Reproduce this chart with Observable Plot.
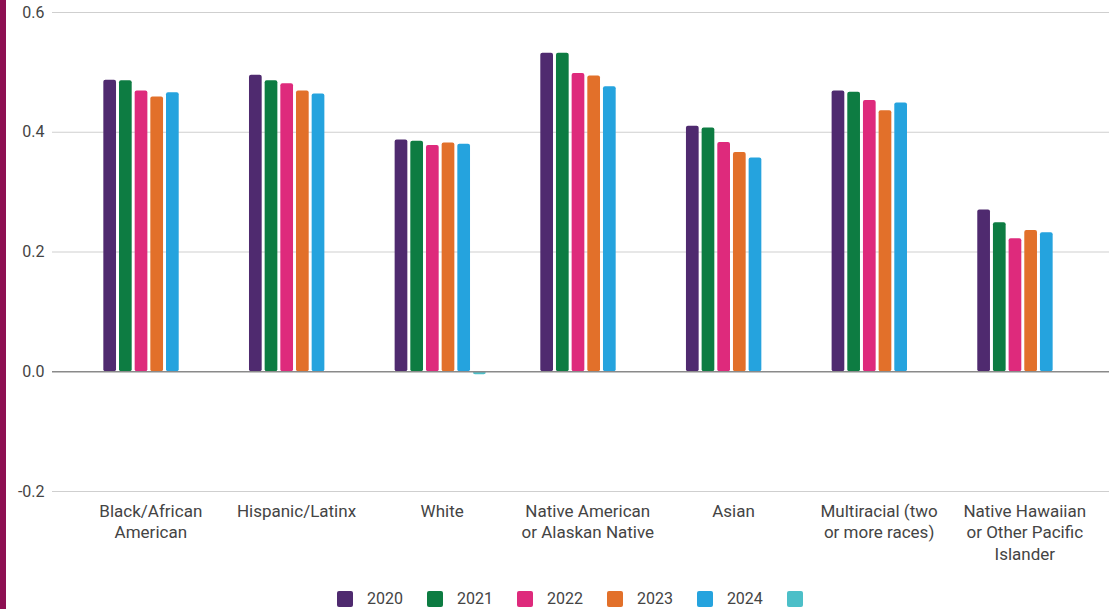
<!DOCTYPE html>
<html>
<head>
<meta charset="utf-8">
<script src="https://cdn.jsdelivr.net/npm/d3@7"></script>
<script src="https://cdn.jsdelivr.net/npm/@observablehq/plot@0.6"></script>
<style>
  html, body { margin: 0; padding: 0; background: #fff; overflow: hidden; }
  body { width: 1109px; height: 609px; position: relative; font-family: Roboto, "Noto Sans", sans-serif; }
  #stripe { position: absolute; left: 0; top: 0; width: 6px; height: 609px; background: #8d0f52; z-index: 2; }
  #chart svg { display: block; }
  #legend { position: absolute; left: 337px; top: 591px; display: flex; align-items: center; height: 16px; font-size: 16px; color: #444; }
  .item { display: flex; align-items: center; margin-right: 24px; }
  .sw { width: 16px; height: 16px; border-radius: 2px; }
  .lab { margin-left: 14px; line-height: 16px; }
</style>
</head>
<body>
<div id="stripe"></div>
<div id="chart"></div>
<div id="legend"></div>
<script>
const categories = [
  "Black/African\nAmerican",
  "Hispanic/Latinx",
  "White",
  "Native American\nor Alaskan Native",
  "Asian",
  "Multiracial (two\nor more races)",
  "Native Hawaiian\nor Other Pacific\nIslander"
];
const seriesNames = ["2020", "2021", "2022", "2023", "2024", ""];
const v2020 = [0.487, 0.495, 0.387, 0.532, 0.410, 0.469, 0.270];
const v2021 = [0.486, 0.486, 0.385, 0.532, 0.407, 0.467, 0.249];
const v2022 = [0.469, 0.481, 0.378, 0.498, 0.383, 0.453, 0.222];
const v2023 = [0.459, 0.469, 0.382, 0.494, 0.366, 0.436, 0.236];
const v2024 = [0.466, 0.464, 0.380, 0.476, 0.357, 0.449, 0.232];
const vExtra = [null, null, -0.005, null, null, null, null];
const seriesValues = [v2020, v2021, v2022, v2023, v2024, vExtra];
const colors = ["#4f2a6f", "#0d7c42", "#de2a7c", "#e2702a", "#25a3de", "#4cbfc8"];
const yTicks = [-0.2, 0, 0.2, 0.4, 0.6];

const data = seriesValues.flatMap((vals, j) =>
  vals.map((v, i) => ({cat: categories[i], s: j, value: v}))
).filter(d => d.value != null);

// layout of bars within each category band
const xRange = [77.5, 1097.1];
const bandStep = (xRange[1] - xRange[0]) / categories.length;
const slot = 15.67, barW = 12.7, groupOffset = bandStep / 2 - 47;

const barMarks = seriesValues.map((_, j) => {
  const insetLeft = groupOffset + slot * j;
  const insetRight = bandStep - insetLeft - barW;
  return Plot.barY(data.filter(d => d.s === j), {
    x: "cat", y: "value", fill: colors[j], insetLeft, insetRight, rx: 2
  });
});

const chart = Plot.plot({
  width: 1109,
  height: 580,
  marginLeft: 52,
  marginRight: 0,
  marginTop: 12,
  marginBottom: 89,
  style: {fontFamily: "Roboto, 'Noto Sans', sans-serif", fontSize: "16px", color: "#444", background: "#fff"},
  x: {domain: categories, range: xRange, padding: 0, round: false, axis: null},
  y: {domain: [-0.2, 0.6], ticks: yTicks, tickFormat: d => d.toFixed(1), tickSize: 0, tickPadding: 8, label: null},
  marks: [
    Plot.ruleY(yTicks.filter(t => t !== 0), {stroke: "#cfcfcf", strokeWidth: 1}),
    ...barMarks,
    Plot.ruleY([0], {stroke: "#8a8a8a", strokeWidth: 1.5}),
    Plot.text(categories, {x: d => d, text: d => d, frameAnchor: "bottom", lineAnchor: "top", dy: 10, fontSize: 17, lineHeight: 1.27, fill: "#444"})
  ]
});
document.getElementById("chart").appendChild(chart);

const legend = document.getElementById("legend");
seriesNames.forEach((name, j) => {
  const item = document.createElement("div");
  item.className = "item";
  const sw = document.createElement("div");
  sw.className = "sw";
  sw.style.background = colors[j];
  item.appendChild(sw);
  if (name) {
    const lab = document.createElement("span");
    lab.className = "lab";
    lab.textContent = name;
    item.appendChild(lab);
  }
  legend.appendChild(item);
});
</script>
</body>
</html>
